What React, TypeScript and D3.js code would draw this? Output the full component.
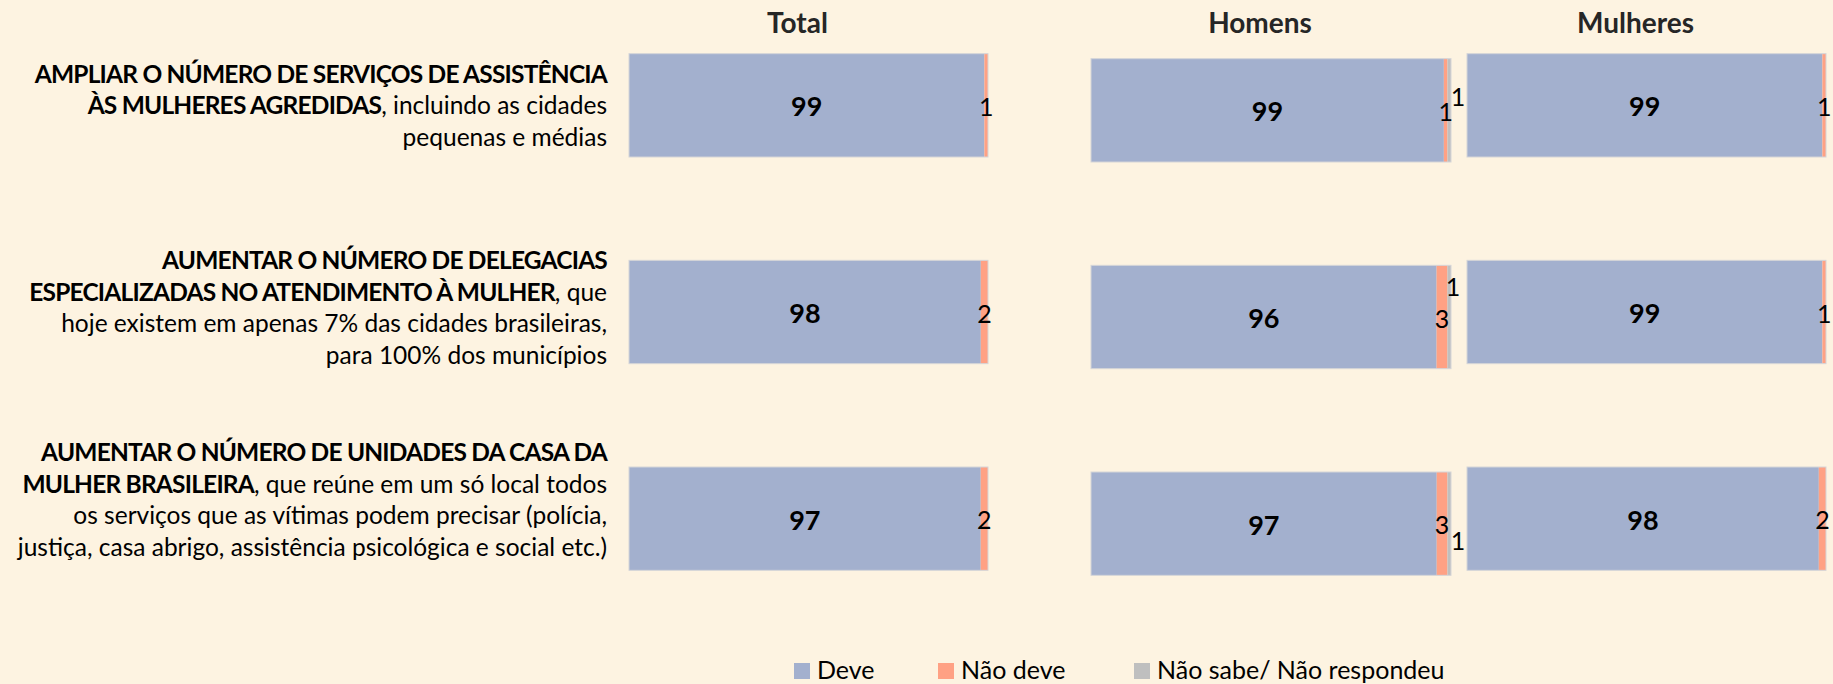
import React from 'react';
import * as d3 from 'd3';

// panels and rows
const panels = ['Total', 'Homens', 'Mulheres'];
const seriesNames = ['Deve', 'Não deve', 'Não sabe/ Não respondeu'];

// values per panel, one entry per row (statement)
const deve = [
    [99, 98, 97],
    [99, 96, 97],
    [99, 99, 98],
];
const naoDeve = [
    [1, 2, 2],
    [1, 3, 3],
    [1, 1, 2],
];
const naoSabe = [
    [0, 0, 0],
    [1, 1, 1],
    [0, 0, 0],
];

// statement labels, line by line: [text, bold]
const statements: [string, boolean][][][] = [
    [
        [['AMPLIAR O NÚMERO DE SERVIÇOS DE ASSISTÊNCIA', true]],
        [['ÀS MULHERES AGREDIDAS', true], [', incluindo as cidades', false]],
        [['pequenas e médias', false]],
    ],
    [
        [['AUMENTAR O NÚMERO DE DELEGACIAS', true]],
        [['ESPECIALIZADAS NO ATENDIMENTO À MULHER', true], [', que', false]],
        [['hoje existem em apenas 7% das cidades brasileiras,', false]],
        [['para 100% dos municípios', false]],
    ],
    [
        [['AUMENTAR O NÚMERO DE UNIDADES DA CASA DA', true]],
        [['MULHER BRASILEIRA', true], [', que reúne em um só local todos', false]],
        [['os serviços que as vítimas podem precisar (polícia,', false]],
        [['justiça, casa abrigo, assistência psicológica e social etc.)', false]],
    ],
];

const W = 1833;
const H = 684;
const colors = ['#A3B0CE', '#FFA184', '#BFBFBF'];
const font = "Lato, 'Open Sans', sans-serif";

// layout
const panelX: [number, number][] = [[629, 988], [1091, 1451], [1467, 1826]];
const panelDy = [0, 5, 0];
const labelRight = 607;
const labelShift = [0, -4.5, -19];
const lineH = 31.5;
const legendX = [794, 938, 1134];
// manual nudges for the small "Não sabe" labels (Homens)
const nsNudge = [
    { dx: 7, dy: -15 },
    { dx: 2, dy: -32 },
    { dx: 7, dy: 16 },
];

const App = () => {
    const rows = d3.range(statements.length);
    const y = d3.scaleBand<number>().domain(rows).range([2, 622]).paddingInner(0.5).paddingOuter(0.25);
    const bw = y.bandwidth();

    const stack = d3
        .stack<number[]>()
        .keys([0, 1, 2] as any)
        .value((d, k) => d[k as any])
        .offset(d3.stackOffsetExpand);

    return (
        <svg
            width={W}
            height={H}
            style={{ position: 'absolute', left: 0, top: 0, background: '#FDF3E1', fontFamily: font }}
        >
            <rect width={W} height={H} fill="#FDF3E1" />

            {/* statement labels */}
            {statements.map((lines, i) => {
                const cy = (y(i) as number) + bw / 2 + labelShift[i];
                return (
                    <text key={i} textAnchor="end" fontSize={24.5} fill="#000">
                        {lines.map((segs, k) => (
                            <tspan key={k} x={labelRight} y={cy + (k - (lines.length - 1) / 2) * lineH} dy="0.36em">
                                {segs.map(([t, b], j) => (
                                    <tspan key={j} fontWeight={b ? 700 : 400} letterSpacing={b ? -0.8 : 0}>
                                        {t}
                                    </tspan>
                                ))}
                            </tspan>
                        ))}
                    </text>
                );
            })}

            {panels.map((p, pi) => {
                const x = d3.scaleLinear().domain([0, 1]).range(panelX[pi]);
                const data = rows.map((r) => [deve[pi][r], naoDeve[pi][r], naoSabe[pi][r]]);
                const series = stack(data);
                const cx = (panelX[pi][0] + panelX[pi][1]) / 2;
                return (
                    <g key={p} transform={`translate(0,${panelDy[pi]})`}>
                        <text
                            x={cx - 11}
                            y={33 - panelDy[pi]}
                            textAnchor="middle"
                            fontSize={28}
                            fontWeight={700}
                            fill="#262626"
                        >
                            {p}
                        </text>
                        {series.map((s, si) =>
                            s.map((d, r) => (
                                <rect
                                    key={`${si}-${r}`}
                                    x={x(d[0])}
                                    y={y(r)}
                                    width={Math.max(0, x(d[1]) - x(d[0]))}
                                    height={bw}
                                    fill={colors[si]}
                                />
                            ))
                        )}
                        {rows.map((r) => {
                            const x0 = x(series[0][r][0]);
                            const x1 = x(series[2][r][1]);
                            return (
                                <rect
                                    key={`o${r}`}
                                    x={x0}
                                    y={y(r)}
                                    width={x1 - x0}
                                    height={bw}
                                    fill="none"
                                    stroke="#D5D5D8"
                                    strokeWidth={1}
                                />
                            );
                        })}
                        {series.map((s, si) =>
                            s.map((d, r) => {
                                const v = data[r][si];
                                if (!v) return null;
                                const cyr = (y(r) as number) + bw / 2;
                                let lx = (x(d[0]) + x(d[1])) / 2;
                                let ly = cyr + 10.5;
                                if (si === 2) {
                                    lx = x(d[1]) + nsNudge[r].dx;
                                    ly = cyr + 10.5 + nsNudge[r].dy;
                                }
                                return (
                                    <text
                                        key={`l${si}-${r}`}
                                        x={lx}
                                        y={si === 0 ? cyr + 11 : ly}
                                        textAnchor="middle"
                                        fontSize={si === 0 ? 27 : 25}
                                        fontWeight={si === 0 ? 700 : 400}
                                        fill="#000"
                                    >
                                        {v}
                                    </text>
                                );
                            })
                        )}
                    </g>
                );
            })}

            {/* legend */}
            {seriesNames.map((n, i) => (
                <g key={n} transform={`translate(${legendX[i]},663)`}>
                    <rect width={16} height={16} fill={colors[i]} />
                    <text x={23} y={16} fontSize={25} fill="#000">
                        {n}
                    </text>
                </g>
            ))}
        </svg>
    );
};

export default App;
